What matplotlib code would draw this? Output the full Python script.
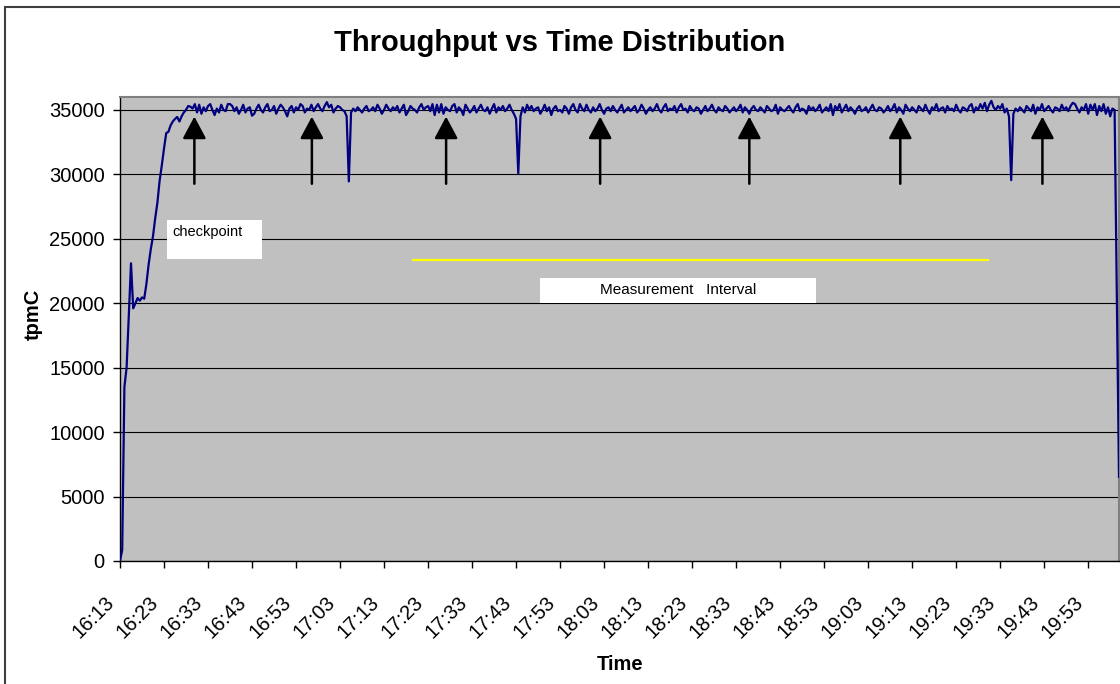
import matplotlib
matplotlib.use("Agg")
import matplotlib.pyplot as plt
from matplotlib.patches import Rectangle
from matplotlib.transforms import ScaledTranslation
import numpy as np

plt.rcParams['font.family'] = ['Liberation Sans', 'DejaVu Sans']

# tpmC sampled every 30 seconds from 16:13
tpmc = [
    0, 850, 13500, 15000, 19050, 23100, 19600, 20000, 20400, 20200, 20450, 20350, 21500, 23000, 24200, 25200, 26600, 27800, 29500, 30700,
    32000, 33200, 33300, 33800, 34100, 34300, 34450, 34100, 34500, 34800, 35000, 35300, 35250, 35100, 35450, 34800, 35400, 34700, 35200, 34900,
    35300, 35450, 35000, 34600, 35100, 34800, 35400, 35000, 34900, 35450, 35450, 35300, 34900, 35200, 34700, 35000, 35400, 34800, 35100, 35200,
    34550, 34700, 35100, 35400, 35000, 34800, 35200, 35450, 34900, 35000, 35300, 34700, 35100, 35400, 35200, 34900, 34500, 35100, 35300, 34800,
    35200, 35000, 35450, 35300, 34800, 35100, 35000, 35400, 34900, 35200, 35450, 35100, 34900, 35300, 35600, 35200, 35400, 34800, 35100, 35300,
    35200, 35000, 34900, 34500, 29450, 34800, 35100, 34900, 35200, 35000, 34800, 35100, 35300, 34900, 35000, 35200, 34900, 35400, 35100, 34700,
    35000, 35400, 35100, 34900, 35200, 35000, 35300, 34800, 35100, 35400, 34600, 34900, 35300, 35100, 35000, 34800, 35200, 35450, 35000, 35200,
    35300, 34900, 35450, 34600, 35400, 34800, 35450, 34700, 35200, 35000, 34900, 35300, 35450, 34800, 35200, 35000, 34600, 35400, 35100, 34800,
    35000, 35300, 34800, 35100, 35400, 35000, 34900, 35200, 34700, 35100, 35450, 34800, 35200, 35000, 35300, 34900, 35100, 35400, 35000, 34700,
    34300, 30070, 34500, 35200, 34800, 35400, 35000, 35300, 34900, 35100, 35200, 34700, 35000, 35400, 34900, 35200, 34600, 35100, 35300, 34900,
    35000, 34800, 35300, 35100, 34700, 35200, 35450, 35000, 34800, 35450, 35100, 34900, 35400, 35000, 34800, 35200, 34900, 35100, 35450, 35000,
    34700, 35100, 35200, 34900, 35300, 35000, 34800, 35100, 35400, 34800, 35000, 35200, 34900, 35100, 35300, 34800, 35000, 35400, 35100, 34700,
    35000, 35200, 34900, 35100, 35450, 35000, 34800, 35200, 35450, 34900, 35100, 35000, 35300, 34800, 35200, 35450, 35000, 35100, 34800, 35300,
    35000, 34900, 35200, 35100, 34700, 35000, 35300, 34900, 35100, 35400, 35000, 34800, 35200, 35000, 34900, 35300, 35100, 34800, 35000, 35200,
    34900, 35100, 35400, 34800, 35200, 35000, 34700, 35100, 35300, 35000, 34900, 35200, 35000, 34800, 35300, 35100, 34900, 35000, 35400, 34700,
    35200, 35000, 34900, 35100, 35300, 35000, 34800, 35200, 35450, 34900, 35100, 35000, 34700, 35300, 35000, 35200, 34900, 35100, 35400, 34800,
    35000, 35200, 34900, 35450, 34600, 35300, 35000, 35450, 34800, 35100, 35400, 34900, 35200, 35000, 34700, 35100, 35300, 34900, 35000, 35200,
    34800, 35100, 35400, 35000, 34900, 35200, 35100, 34800, 35000, 35300, 34900, 35100, 35450, 34800, 35200, 35000, 34700, 35400, 35100, 34900,
    35200, 35000, 34800, 35300, 35100, 34900, 35400, 35000, 34700, 35200, 35000, 35450, 34900, 35100, 35200, 34800, 35300, 35000, 35100, 34900,
    35400, 35000, 34800, 35200, 35100, 34900, 35300, 35450, 34800, 35200, 35000, 35450, 35100, 35550, 34900, 35400, 35700, 35200, 35000, 35300,
    35100, 35450, 34800, 35100, 34500, 29550, 34700, 35100, 34900, 35200, 35000, 34800, 35300, 35100, 34900, 35400, 34700, 35200, 35000, 35450,
    34900, 35100, 35300, 35000, 34800, 35200, 35100, 34900, 35400, 35000, 35200, 34900, 35300, 35550, 35450, 35100, 34800, 35200, 35000, 35450,
    34700, 35400, 35000, 35450, 34600, 35300, 34900, 35450, 34700, 35200, 34500, 35100, 35000, 21000, 6530,
]
step_min = 0.5

tick_labels = ["16:13", "16:23", "16:33", "16:43", "16:53", "17:03", "17:13", "17:23",
               "17:33", "17:43", "17:53", "18:03", "18:13", "18:23", "18:33", "18:43",
               "18:53", "19:03", "19:13", "19:23", "19:33", "19:43", "19:53"]

# checkpoints (minutes after 16:13)
checkpoints = [16.9, 43.6, 74.1, 109.1, 143.0, 177.3, 209.6]
arrow_low, arrow_high = 29270, 34480

# measurement interval (minutes after 16:13) and its marker level
mi_start, mi_end, mi_level = 66.6, 197.3, 23385

fig = plt.figure(figsize=(11.2, 6.84), dpi=100)
W, H = 1120, 684
ax = fig.add_axes([120 / W, 1 - 561 / H, 999 / W, 464 / H])

x = np.arange(len(tpmc)) * step_min
ax.set_facecolor('#C0C0C0')
ax.set_xlim(0, x[-1])
ax.set_ylim(0, 36000)
ax.set_yticks(np.arange(0, 36000, 5000))
ax.yaxis.grid(True, color='black', lw=0.8, zorder=1)
ax.set_axisbelow(True)

ax.plot(x, tpmc, color='#000080', lw=1.6, zorder=4)

# measurement interval
ax.plot([mi_start, mi_end], [mi_level, mi_level], color='#FFFF00', lw=1.6, zorder=3)

# checkpoint arrows
for c in checkpoints:
    ax.annotate('', xy=(c, arrow_high), xytext=(c, arrow_low),
                arrowprops=dict(arrowstyle='-|>,head_length=1.35,head_width=0.72',
                                color='black', lw=1.8, shrinkA=0, shrinkB=0),
                zorder=5)

# text boxes
ax.add_patch(Rectangle((10.7, 23460), 21.6, 3020, facecolor='white', edgecolor='none', zorder=3))
ax.text(11.9, 25500, 'checkpoint', fontsize=10.5, ha='left', va='center', zorder=6)
ax.add_patch(Rectangle((95.5, 20050), 62.7, 1940, facecolor='white', edgecolor='none', zorder=3))
ax.text(126.9, 21020, 'Measurement   Interval', fontsize=11, ha='center', va='center', zorder=6)

for s in ['left', 'bottom']:
    ax.spines[s].set_color('black')
    ax.spines[s].set_linewidth(1.0)
for s in ['top', 'right']:
    ax.spines[s].set_color('#808080')
    ax.spines[s].set_linewidth(1.5)

ax.set_xticks(np.arange(len(tick_labels)) * 10)
ax.set_xticklabels(tick_labels, rotation=45, ha='right', rotation_mode='anchor')
ax.tick_params(axis='x', direction='out', length=5, width=1, labelsize=14.5, pad=18)
ax.tick_params(axis='y', direction='out', length=5, width=1, labelsize=14.5, pad=6)
off = ScaledTranslation(-15 / 100, 0, fig.dpi_scale_trans)
for lab in ax.get_xticklabels():
    lab.set_transform(lab.get_transform() + off)

fig.text(0.5, 1 - 43 / H, 'Throughput vs Time Distribution', fontsize=21,
         fontweight='bold', ha='center', va='center')
fig.text(33 / W, 1 - 314 / H, 'tpmC', fontsize=14.5, fontweight='bold',
         rotation=90, ha='center', va='center')
fig.text(620 / W, 1 - 664 / H, 'Time', fontsize=14.5, fontweight='bold',
         ha='center', va='center')

# chart border (cropped at right and bottom)
fig.patches.append(Rectangle((5 / W, -0.1), 2.0, 1.1 - 7 / H, transform=fig.transFigure,
                             fill=False, edgecolor='#404040', lw=1.5, zorder=0))

fig.savefig('out.png', dpi=100)
